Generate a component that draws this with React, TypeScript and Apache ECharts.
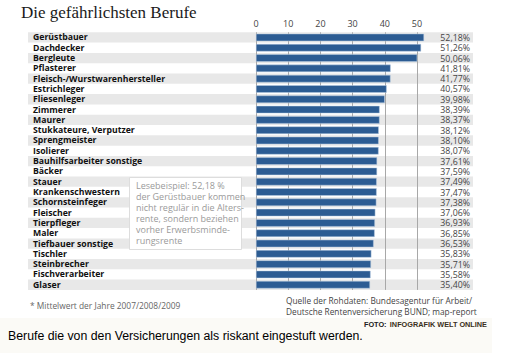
import React, { useEffect, useRef } from "react";
import * as echarts from "echarts";

const categories = [
  "Gerüstbauer", "Dachdecker", "Bergleute", "Pflasterer", "Fleisch-/Wurstwarenhersteller",
  "Estrichleger", "Fliesenleger", "Zimmerer", "Maurer", "Stukkateure, Verputzer",
  "Sprengmeister", "Isolierer", "Bauhilfsarbeiter sonstige", "Bäcker", "Stauer",
  "Krankenschwestern", "Schornsteinfeger", "Fleischer", "Tierpfleger", "Maler",
  "Tiefbauer sonstige", "Tischler", "Steinbrecher", "Fischverarbeiter", "Glaser",
];
const values = [
  52.18, 51.26, 50.06, 41.81, 41.77, 40.57, 39.98, 38.39, 38.37, 38.12,
  38.1, 38.07, 37.61, 37.59, 37.49, 37.47, 37.38, 37.06, 36.93, 36.85,
  36.53, 35.83, 35.71, 35.58, 35.4,
];
const title = "Die gefährlichsten Berufe";
const noteLines = [
  "Lesebeispiel: 52,18 %",
  "der Gerüstbauer kommen",
  "nicht regulär in die Alters-",
  "rente, sondern beziehen",
  "vorher Erwerbsminde-",
  "rungsrente",
];
const footnote = "* Mittelwert der Jahre 2007/2008/2009";
const sourceLines = [
  "Quelle der Rohdaten: Bundesagentur für Arbeit/",
  "Deutsche Rentenversicherung BUND; map-report",
];
const caption = "Berufe die von den Versicherungen als riskant eingestuft werden.";

const fmt = (v: number) => v.toFixed(2).replace(".", ",") + "%";
const SANS = "'Open Sans', sans-serif";

export default function App() {
  const ref = useRef<HTMLDivElement>(null);
  useEffect(() => {
    if (!ref.current) return;
    const chart = echarts.init(ref.current, null, { renderer: "svg" });
    const rowData = values.map((v, i) => [v, i]);
    chart.setOption({
      animation: false,
      backgroundColor: "#ffffff",
      grid: { left: 256, right: 58.8, top: 32.3, bottom: 63.1, containLabel: false },
      xAxis: {
        type: "value",
        position: "top",
        min: 0,
        max: 60,
        interval: 10,
        axisLine: { show: false },
        axisTick: { show: false },
        axisLabel: {
          margin: 4,
          fontFamily: SANS,
          fontSize: 9,
          color: "#444",
          showMaxLabel: false,
        },
        splitLine: { show: true, showMaxLine: false, lineStyle: { color: "#a8a8a8", width: 1 } },
      },
      yAxis: {
        type: "category",
        data: categories,
        inverse: true,
        axisLine: { show: false },
        axisTick: { show: false },
        axisLabel: {
          interval: 0,
          align: "left",
          margin: 223,
          fontFamily: SANS,
          fontWeight: "bold",
          fontSize: 8.7,
          lineHeight: 10,
          color: "#111",
        },
      },
      series: [
        {
          type: "custom",
          z: -1,
          data: rowData,
          encode: { x: 0, y: 1 },
          silent: true,
          renderItem: (params: any, api: any) => {
            const idx = api.value(1);
            const v = api.value(0);
            const pt = api.coord([0, idx]);
            const h = api.size([0, 1])[1];
            const children: any[] = [];
            if (idx % 2 === 0) {
              children.push({
                type: "rect",
                shape: { x: 28, y: pt[1] - h / 2, width: 445, height: h },
                style: { fill: "#e8e8e8" },
              });
            }
            children.push({
              type: "text",
              style: {
                x: 470,
                y: pt[1] + 0.5,
                text: fmt(v),
                align: "right",
                verticalAlign: "middle",
                fontFamily: SANS,
                fontSize: 8.8,
                lineHeight: 10,
                fill: "#444",
              },
            });
            return { type: "group", children };
          },
        },
        {
          type: "bar",
          data: values,
          barWidth: 7.5,
          itemStyle: { color: "#2c5c93", borderColor: "#b8cde3", borderWidth: 0.5 },
          silent: true,
        },
      ],
      graphic: [
        {
          type: "text",
          left: 21,
          top: 4,
          style: {
            text: title,
            fontFamily: "'Liberation Serif', serif",
            fontSize: 17,
            fill: "#1a1a1a",
          },
        },
        {
          type: "rect",
          shape: { x: 129.5, y: 177.5, width: 112, height: 72 },
          style: { fill: "#ffffff", stroke: "#dddddd", lineWidth: 1 },
          z: 50,
        },
        {
          type: "text",
          x: 136,
          y: 180,
          z: 51,
          style: {
            text: noteLines.join("\n"),
            fontFamily: SANS,
            fontSize: 9,
            lineHeight: 11,
            fill: "#9a9a9a",
          },
        },
        {
          type: "text",
          x: 30,
          y: 301,
          style: { text: footnote, fontFamily: SANS, fontSize: 8.4, fill: "#666" },
        },
        {
          type: "text",
          x: 286,
          y: 295,
          style: {
            text: sourceLines.join("\n"),
            fontFamily: SANS,
            fontSize: 8.3,
            lineHeight: 11,
            fill: "#444",
          },
        },
        {
          type: "rect",
          shape: { x: 0, y: 318, width: 492, height: 35 },
          style: { fill: "#fbfaf6" },
        },
        {
          type: "text",
          x: 487,
          y: 324,
          style: {
            text: "{a|FOTO:} {b|INFOGRAFIK WELT ONLINE}",
            align: "right",
            verticalAlign: "middle",
            rich: {
              a: { fontFamily: "'Liberation Sans', Arial", fontWeight: "bold", fontSize: 7.3, fill: "#222" },
              b: { fontFamily: "'Liberation Sans', Arial", fontWeight: "bold", fontSize: 7.3, fill: "#3a3020" },
            },
          },
        },
        {
          type: "text",
          x: 8,
          y: 336,
          style: {
            text: caption,
            verticalAlign: "middle",
            fontFamily: "'Liberation Sans', Arial, sans-serif",
            fontSize: 12.3,
            fill: "#000",
          },
        },
      ],
    });
    return () => chart.dispose();
  }, []);
  return (
    <div
      ref={ref}
      style={{ position: "absolute", left: 0, top: 0, width: 508, height: 353 }}
    />
  );
}
